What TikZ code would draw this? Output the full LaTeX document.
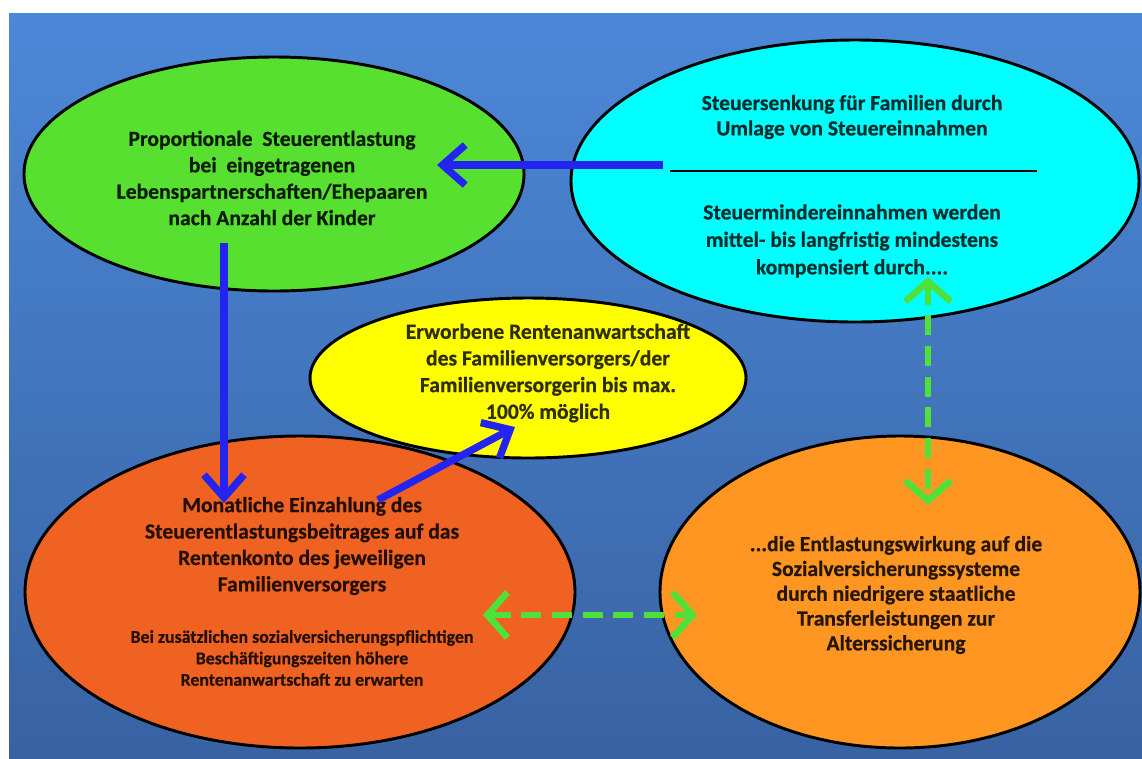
\documentclass[tikz,border=0pt]{standalone}
\usepackage{fontspec}
\setmainfont{Carlito}[BoldFeatures={FakeBold=0.6}]
\usetikzlibrary{shapes.geometric,arrows.meta,calc}
\definecolor{bgtop}{HTML}{4C88D8}
\definecolor{bgbot}{HTML}{3862A2}
\definecolor{cgreen}{HTML}{58E030}
\definecolor{ccyan}{HTML}{00FFFF}
\definecolor{cyellow}{HTML}{FFFF00}
\definecolor{corangeL}{HTML}{F06222}
\definecolor{corangeR}{HTML}{FF9622}
\definecolor{cblue}{HTML}{2424F0}
\definecolor{cgarrow}{HTML}{50E03A}
\tikzset{
  ell/.style={ellipse, draw=black, line width=2.2pt, inner sep=0pt},
  txt/.style={align=center, font=\bfseries\fontsize{16.2}{19.8}\selectfont, inner sep=0pt},
  smalltxt/.style={align=center, font=\bfseries\fontsize{13.4}{16.1}\selectfont, inner sep=0pt},
  bluearrow/.style={draw=cblue, line width=5.5pt, -{Straight Barb[length=17pt,width=30pt]}},
  greenarrow/.style={draw=cgarrow, line width=5pt, dash pattern=on 15pt off 8pt,
     {Straight Barb[length=15pt,width=34pt]}-{Straight Barb[length=15pt,width=34pt]}}
}
\begin{document}
\begin{tikzpicture}[x=0.75pt,y=-0.75pt]
\useasboundingbox (0,0) rectangle (1142,758);
\fill[white] (0,0) rectangle (1142,758);
\shade[top color=bgtop,bottom color=bgbot] (9,13) rectangle (1142,758);

% ellipses
\node[ell, fill=cgreen, minimum width=375pt, minimum height=175.5pt] (green) at (274,174) {};
\node[ell, fill=ccyan, minimum width=426pt, minimum height=211.5pt] (cyan) at (855,181) {};
\node[ell, fill=corangeL, minimum width=412.5pt, minimum height=234pt] (orL) at (300,592) {};
\node[ell, fill=corangeR, minimum width=360pt, minimum height=234pt] (orR) at (900,592) {};
\node[ell, fill=cyellow, minimum width=327pt, minimum height=120pt] (yellow) at (528,378) {};

% separator line in cyan ellipse
\draw[line width=2pt] ($(cyan.center)+(-185,-10)$) coordinate (sepL) -- ($(cyan.center)+(182,-10)$) coordinate (sepR);

% texts
\node[txt, text=cgreen!12!black] (tgreen) at (272,178)
  {Proportionale\ \ Steuerentlastung\\bei\ \ eingetragenen\\Lebenspartnerschaften/Ehepaaren\\nach Anzahl der Kinder};
\node[txt, text=ccyan!18!black, font=\bfseries\fontsize{16.2}{19}\selectfont] (tcyan1) at (852,117)
  {Steuersenkung für Familien durch\\Umlage von Steuereinnahmen};
\node[txt, text=ccyan!18!black, font=\bfseries\fontsize{16.2}{20.6}\selectfont] (tcyan2) at (852,241)
  {Steuermindereinnahmen werden\\mittel- bis langfristig mindestens\\kompensiert durch....};
\node[txt, text=cyellow!18!black, font=\bfseries\fontsize{16.2}{20}\selectfont] (tyellow) at (548,373)
  {Erworbene Rentenanwartschaft\\des Familienversorgers/der\\Familienversorgerin bis max.\\100\% möglich};
\node[txt, text=corangeL!15!black] (torL1) at (302,546)
  {Monatliche Einzahlung des\\Steuerentlastungsbeitrages auf das\\Rentenkonto des jeweiligen\\Familienversorgers};
\node[smalltxt, text=corangeL!15!black] (torL2) at (302,658)
  {Bei zusätzlichen sozialversicherungspflichtigen\\Beschäftigungszeiten höhere\\Rentenanwartschaft zu erwarten};
\node[txt, text=corangeR!15!black, font=\bfseries\fontsize{16.2}{18.6}\selectfont] (torR) at (896,595)
  {...die Entlastungswirkung auf die\\Sozialversicherungssysteme\\durch niedrigere staatliche\\Transferleistungen zur\\Alterssicherung};

% blue arrows
\draw[bluearrow] ($(cyan.center)+(-192,-16)$) -- ($(green.center)+(163,-9)$);
\draw[bluearrow] ($(green.center)+(-50,69)$) -- ($(orL.center)+(-76,-89)$);
\draw[bluearrow] ($(orL.center)+(78,-92)$) -- ($(yellow.center)+(-13,49)$);

% green dashed double arrows
\draw[greenarrow] ($(cyan.center)+(73,96)$) -- ($(orR.center)+(28,-87)$);
\draw[greenarrow] ($(orL.center)+(183,23)$) -- ($(orR.center)+(-203,23)$);
\end{tikzpicture}
\end{document}
